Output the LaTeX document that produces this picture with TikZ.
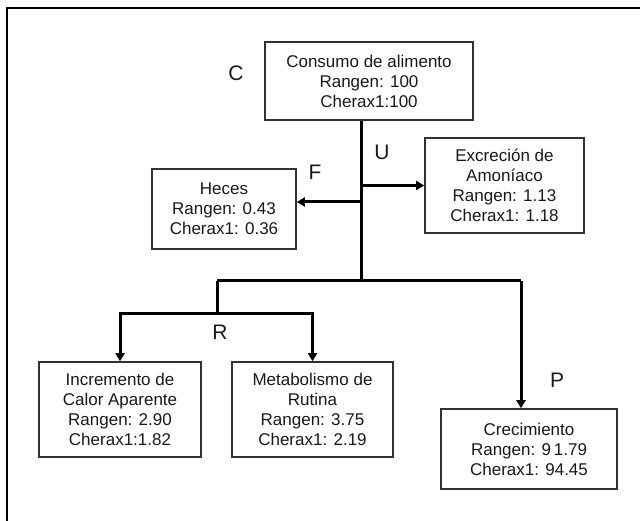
\documentclass[tikz,border=0pt]{standalone}
\usepackage{fontspec}
\setmainfont{Liberation Sans}
\usepackage{xcolor}
\usepackage{tikz}
\usetikzlibrary{calc,arrows.meta,positioning}
\tikzset{
  box/.style={draw=black!80, line width=1.6pt, fill=white, align=center, text=black!90, inner sep=0pt, font=\fontsize{17}{20}\selectfont},
  flow/.style={draw=black, line width=3pt},
  tip/.style={flow, -{Triangle[length=8pt,width=9pt]}},
  tag/.style={text=black!90, inner sep=0pt, font=\fontsize{21}{21}\selectfont},
  frame/.style={draw=black, line width=2pt}
}

\begin{document}
\begin{tikzpicture}[x=1pt,y=-1pt]
    \useasboundingbox (0,0) rectangle (640,521);
    \draw[frame] (640,8) -- (7,8) -- (7,521);

    \node (cons) [box,minimum width=208pt,minimum height=78pt] at (369,81) 
    {Consumo de alimento\\Rangen: 100\\Cherax1:100};
    \node (excr) [box,minimum width=159pt,minimum height=95pt] at (504.5,185.5) 
    {Excreci\'on de\\Amon\'iaco\\Rangen: 1.13\\Cherax1: 1.18};
    \node (heces) [box,minimum width=144pt,minimum height=80pt] at (224,209) 
    {Heces\\Rangen: 0.43\\Cherax1: 0.36};
    \node (incr) [box,minimum width=162pt,minimum height=95pt] at (120,409.5) 
    {Incremento de\\Calor Aparente\\Rangen: 2.90\\Cherax1:1.82};
    \node (metab) [box,minimum width=161pt,minimum height=95pt] at (312.5,409.5) 
    {Metabolismo de\\Rutina\\Rangen: 3.75\\ Cherax1: 2.19};
    \node (crec) [box,minimum width=176pt,minimum height=80pt] at (529,449) 
    {Crecimiento\\Rangen: 9\,1.79\\Cherax1: 94.45};

    \node (C) [tag] at (236,73) {C};
    \node (U) [tag] at (382,152) {U};
    \node (F) [tag] at (315,172) {F};
    \node (R) [tag] at (220,332) {R};
    \node (P) [tag] at (557,380) {P};

    \coordinate (split) at (361,281);
    \coordinate (fout) at (361,202);
    \coordinate (rjoin) at (217,281);
    \coordinate (pjoin) at (521,281);
    \coordinate (rsplit) at (217,314);

    \draw[flow] (cons.south -| split) -- (split);
    \draw[tip] (excr.west -| split) -- (excr.west);
    \draw[tip] (fout) -- (fout -| heces.east);
    \draw[flow] (rjoin) -- (pjoin);
    \draw[tip] (pjoin) -- (pjoin |- crec.north);
    \draw[flow] (rjoin) -- (rsplit);
    \draw[tip] (rsplit) -| (incr.north);
    \draw[tip] (rsplit) -| (metab.north);
\end{tikzpicture}
\end{document}
